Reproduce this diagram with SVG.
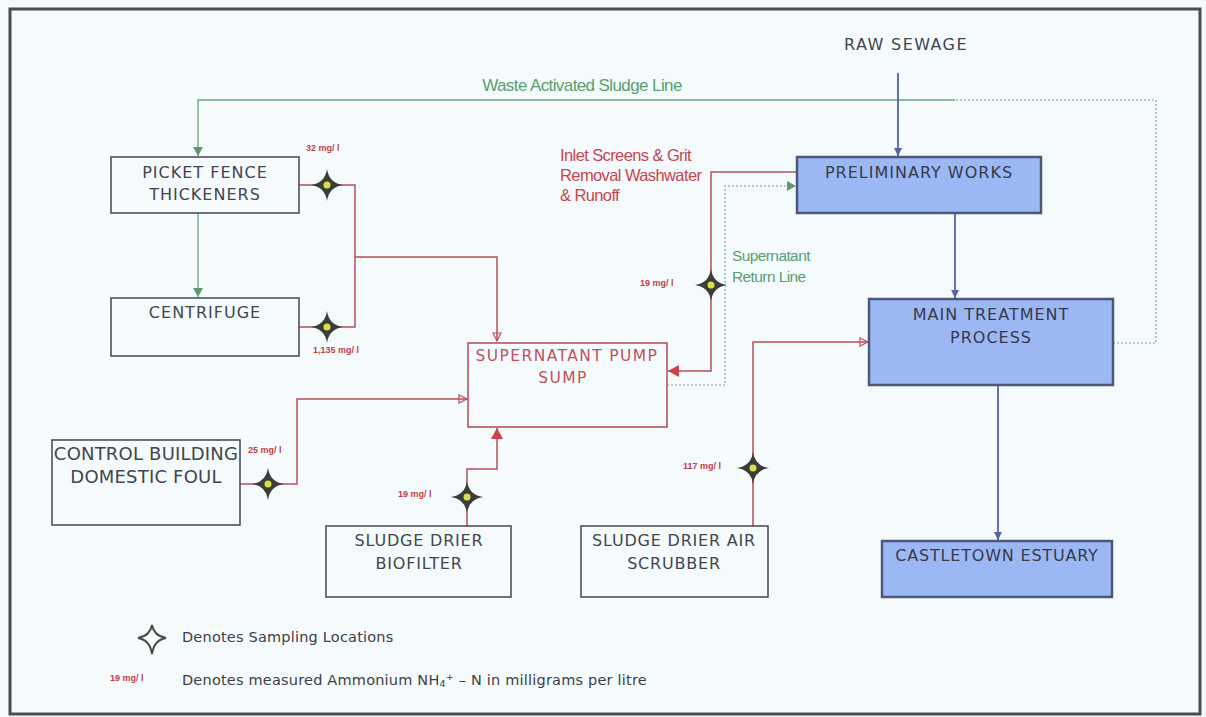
<svg xmlns="http://www.w3.org/2000/svg" width="1206" height="717" viewBox="0 0 1206 717">
<style>
.bg{fill:#f5fbfc}
.frame{fill:none;stroke:#4a4d52;stroke-width:3}
.box{fill:none;stroke:#4b5060;stroke-width:1.6}
.bbox{fill:#9cb8f4;stroke:#4b5878;stroke-width:2.5}
.sump{fill:none;stroke:#c0505a;stroke-width:1.6}
.t{font-family:"DejaVu Sans",sans-serif;fill:#41464f;text-anchor:middle;letter-spacing:1px}
.tb{font-family:"DejaVu Sans",sans-serif;fill:#353a48;text-anchor:middle;letter-spacing:1px}
.tr{font-family:"DejaVu Sans",sans-serif;fill:#c2505c;text-anchor:middle;letter-spacing:1.4px}
.lab{font-family:"Liberation Sans",sans-serif;font-weight:bold;font-size:9px;fill:#c0404c}
.note{font-family:"Liberation Sans",sans-serif;letter-spacing:-0.6px}
.g{fill:none;stroke:#6aa67a;stroke-width:1.3}
.gd{fill:none;stroke:#7aa890;stroke-width:1.2;stroke-dasharray:2 2}
.r{fill:none;stroke:#b84e5a;stroke-width:1.5}
.b{fill:none;stroke:#5464a8;stroke-width:1.8}
.leg{font-family:"DejaVu Sans",sans-serif;font-size:14.5px;fill:#3c4048;letter-spacing:0.2px}
</style>
<defs>
<marker id="ag" markerUnits="userSpaceOnUse" markerWidth="12" markerHeight="12" refX="10" refY="6" orient="auto"><path d="M1,1 L10,6 L1,11 Z" fill="#5e9a6e"/></marker>
<marker id="ab" markerUnits="userSpaceOnUse" markerWidth="12" markerHeight="12" refX="10" refY="6" orient="auto"><path d="M2,2 L10,6 L2,10 Z" fill="#5464a8"/></marker>
<marker id="ar" markerUnits="userSpaceOnUse" markerWidth="12" markerHeight="12" refX="10" refY="6" orient="auto"><path d="M2,2 L10,6 L2,10 Z" fill="none" stroke="#b84e5a" stroke-width="1.2"/></marker>
<marker id="arf" markerUnits="userSpaceOnUse" markerWidth="14" markerHeight="14" refX="12" refY="7" orient="auto"><path d="M1,1 L12,7 L1,13 Z" fill="#d0404a"/></marker>
<g id="star">
<path d="M0,-16 Q2,-2 16,0 Q2,2 0,16 Q-2,2 -16,0 Q-2,-2 0,-16 Z" fill="#3c3c38"/>
<circle r="3.5" fill="#d6e048"/>
</g>
</defs>
<rect class="bg" x="0" y="0" width="1206" height="717"/>
<rect class="frame" x="10" y="9" width="1190" height="705"/>

<g id="connectors">
<path class="gd" d="M1113,343 H1156 V100 H955"/>
<path class="g" d="M955,100 H198 V156" marker-end="url(#ag)"/>
<path class="g" d="M198,213 V297" marker-end="url(#ag)"/>
<path class="b" d="M898,73 V156" marker-end="url(#ab)"/>
<path class="b" d="M955,213 V298" marker-end="url(#ab)"/>
<path class="b" d="M998,385 V540" marker-end="url(#ab)"/>
<path class="r" d="M299,185 H355 V327 H299"/>
<path class="r" d="M355,257 H497 V341" marker-end="url(#ar)"/>
<path class="r" d="M240,484 H297 V399 H467" marker-end="url(#ar)"/>
<path class="r" d="M467,526 V469 H497 V428" marker-end="url(#arf)"/>
<path class="r" d="M797,172 H711 V371 H668" marker-end="url(#arf)"/>
<path class="gd" d="M667,385 H725 V186 H796" marker-end="url(#ag)"/>
<path class="r" d="M753,526 V342 H868" marker-end="url(#ar)"/>
</g>

<g id="title-raw"><text class="t" x="906" y="50" font-size="16" style="letter-spacing:1.4px">RAW SEWAGE</text></g>
<g id="was-label"><text class="note" x="582" y="91" fill="#5a9e70" text-anchor="middle" font-size="17">Waste Activated Sludge Line</text></g>
<g id="inlet-label">
<text class="note" x="560" y="161" fill="#c84450" font-size="16.5">Inlet Screens &amp; Grit</text>
<text class="note" x="560" y="181" fill="#c84450" font-size="16.5">Removal Washwater</text>
<text class="note" x="560" y="201" fill="#c84450" font-size="16.5">&amp; Runoff</text>
</g>
<g id="return-label">
<text class="note" x="732" y="261" fill="#5a9e70" font-size="15.5">Supernatant</text>
<text class="note" x="732" y="282" fill="#5a9e70" font-size="15.5">Return Line</text>
</g>

<g id="picket">
<rect class="box" x="111" y="157" width="188" height="56"/>
<text class="t" x="205" y="178" font-size="16">PICKET FENCE</text>
<text class="t" x="205" y="200" font-size="16">THICKENERS</text>
</g>
<g id="centrifuge">
<rect class="box" x="111" y="298" width="188" height="58"/>
<text class="t" x="205" y="318" font-size="16">CENTRIFUGE</text>
</g>
<g id="control">
<rect class="box" x="52" y="440" width="188" height="85"/>
<text class="t" x="146" y="460" font-size="18" style="letter-spacing:0.2px">CONTROL BUILDING</text>
<text class="t" x="146" y="483" font-size="18" style="letter-spacing:0.2px">DOMESTIC FOUL</text>
</g>
<g id="sump">
<rect class="sump" x="468" y="343" width="199" height="84"/>
<text class="tr" x="567" y="361" font-size="15.5">SUPERNATANT PUMP</text>
<text class="tr" x="563" y="383" font-size="15.5">SUMP</text>
</g>
<g id="biofilter">
<rect class="box" x="326" y="526" width="185" height="71"/>
<text class="t" x="419" y="546" font-size="16" style="letter-spacing:0.8px">SLUDGE DRIER</text>
<text class="t" x="419" y="569" font-size="16" style="letter-spacing:0.8px">BIOFILTER</text>
</g>
<g id="scrubber">
<rect class="box" x="581" y="526" width="187" height="71"/>
<text class="t" x="674" y="546" font-size="16" style="letter-spacing:0.8px">SLUDGE DRIER AIR</text>
<text class="t" x="674" y="569" font-size="16" style="letter-spacing:0.8px">SCRUBBER</text>
</g>
<g id="preliminary">
<rect class="bbox" x="797" y="157" width="244" height="56"/>
<text class="tb" x="919" y="178" font-size="16">PRELIMINARY WORKS</text>
</g>
<g id="main">
<rect class="bbox" x="869" y="299" width="244" height="86"/>
<text class="tb" x="991" y="320" font-size="16">MAIN TREATMENT</text>
<text class="tb" x="991" y="343" font-size="16">PROCESS</text>
</g>
<g id="castletown">
<rect class="bbox" x="882" y="541" width="230" height="56"/>
<text class="tb" x="997" y="561" font-size="16" style="letter-spacing:0.8px">CASTLETOWN ESTUARY</text>
</g>

<g id="samples">
<use href="#star" x="327" y="185"/>
<use href="#star" x="327" y="327"/>
<use href="#star" x="268" y="484"/>
<use href="#star" x="467" y="497"/>
<use href="#star" x="711" y="285"/>
<use href="#star" x="753" y="468"/>
<text class="lab" x="306" y="151">32 mg/ l</text>
<text class="lab" x="313" y="353">1,135 mg/ l</text>
<text class="lab" x="248" y="453">25 mg/ l</text>
<text class="lab" x="398" y="497">19 mg/ l</text>
<text class="lab" x="640" y="286">19 mg/ l</text>
<text class="lab" x="683" y="469">117 mg/ l</text>
</g>

<g id="legend">
<path d="M152,625 Q154,636 166,638 Q154,640 152,654 Q150,640 138,638 Q150,636 152,625 Z" fill="#fafcfc" stroke="#4a4a48" stroke-width="2"/>
<text class="leg" x="182" y="642">Denotes Sampling Locations</text>
<text class="lab" x="110" y="681">19 mg/ l</text>
<text class="leg" x="182" y="685">Denotes measured Ammonium NH<tspan font-size="9.5" dy="2">4</tspan><tspan font-size="9.5" dy="-7">+</tspan><tspan dy="5"> – N in milligrams per litre</tspan></text>
</g>
</svg>
